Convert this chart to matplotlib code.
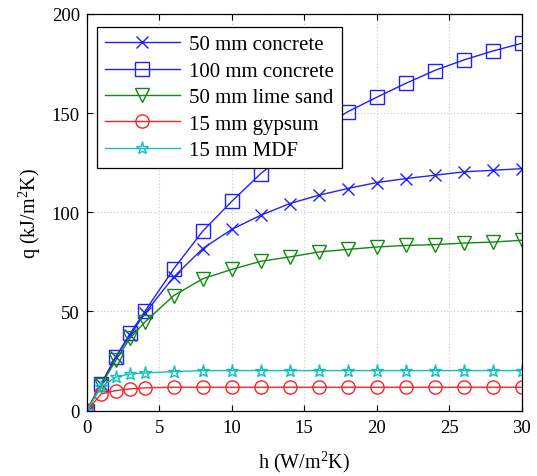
import matplotlib
matplotlib.use("Agg")
import matplotlib.pyplot as plt

plt.rcParams['font.family'] = ['Liberation Serif', 'DejaVu Serif']
plt.rcParams['mathtext.fontset'] = 'custom'
plt.rcParams['mathtext.rm'] = 'Liberation Serif'
plt.rcParams['mathtext.it'] = 'Liberation Serif:italic'

h = [0, 1, 2, 3, 4, 6, 8, 10, 12, 14, 16, 18, 20, 22, 24, 26, 28, 30]
concrete50 = [0, 13.5, 27, 38, 49, 67.4, 81.7, 91.4, 98.5, 104.4, 108.6, 112, 115, 117, 118.7, 120.4, 121.2, 122]
concrete100 = [0, 13.5, 27, 39, 50, 71.5, 90.5, 105.5, 119.5, 131, 141.5, 150.7, 158, 165, 171.5, 176.8, 181.3, 185.2]
limesand50 = [0, 13, 25.3, 36.6, 44.6, 58, 66.5, 71.2, 75.3, 77.5, 80, 81.3, 82.5, 83.3, 83.7, 84.5, 85, 85.9]
gypsum15 = [0, 8.4, 10.1, 11, 11.5, 11.8, 11.8, 11.8, 11.8, 11.8, 11.8, 11.8, 11.8, 11.8, 11.8, 11.8, 11.8, 11.8]
mdf15 = [0, 12, 16.9, 18.5, 19, 19.7, 20.2, 20.2, 20.2, 20.2, 20.2, 20.2, 20.2, 20.2, 20.2, 20.2, 20.2, 20.2]
labels = ['50 mm concrete', '100 mm concrete', '50 mm lime sand', '15 mm gypsum', '15 mm MDF']
xticks = [0, 5, 10, 15, 20, 25, 30]
yticks = [0, 50, 100, 150, 200]

fig = plt.figure(figsize=(5.37, 4.77), dpi=100)
ax = fig.add_axes([0.1615, 0.137, 0.81, 0.8316])

series = [
    (concrete50, '#2020ff', 'x', 8.5),
    (concrete100, '#2020ff', 's', 9.5),
    (limesand50, '#118811', 'v', 9.5),
    (gypsum15, '#ff2020', 'o', 9.5),
    (mdf15, '#10c0c0', '*', 9.5),
]
for (vals, c, m, ms), lab in zip(series, labels):
    ax.plot(h, vals, color=c, marker=m, markersize=ms, markerfacecolor='none',
            markeredgecolor=c, markeredgewidth=1.0, linewidth=1.0, label=lab)

ax.set_xlim(0, 30)
ax.set_ylim(0, 200)
ax.set_xticks(xticks)
ax.set_yticks(yticks)
ax.tick_params(direction='in', labelsize=13.5, length=4, top=True, right=True)
ax.tick_params(axis='y', pad=5)
ax.tick_params(axis='x', pad=6)
ax.grid(True, linestyle=(0, (1, 2)), color='#c8c8c8', linewidth=0.8)
for s in ax.spines.values():
    s.set_linewidth(0.9)
ax.set_xlabel('h (W/m$^2$K)', fontsize=14.5, labelpad=9)
ax.set_ylabel('q (kJ/m$^2$K)', fontsize=14.5, labelpad=6)

leg = ax.legend(loc='upper left', bbox_to_anchor=(0.024, 0.967), fontsize=15,
                frameon=True, fancybox=False, edgecolor='black', framealpha=1,
                handlelength=3.6, borderpad=0.37, labelspacing=0.33, handletextpad=0.45,
                borderaxespad=0)
leg.get_frame().set_linewidth(0.9)

fig.savefig('out.png', dpi=100)
